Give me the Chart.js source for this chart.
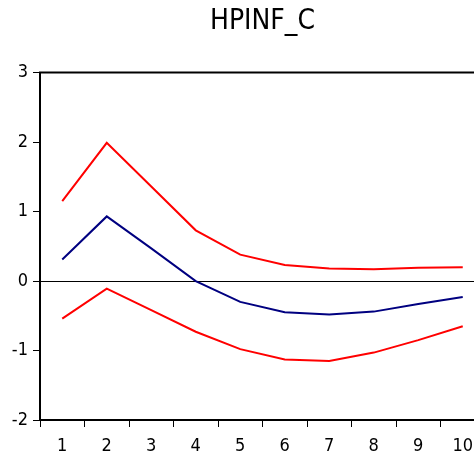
<!DOCTYPE html>
<html>
<head>
<meta charset="utf-8">
<script src="https://cdn.jsdelivr.net/npm/chart.js@4/dist/chart.umd.min.js"></script>
<style>
  html, body { margin: 0; padding: 0; overflow: hidden; background: #fff; }
  #wrap { width: 474px; height: 455px; overflow: hidden; }
</style>
</head>
<body>
<div id="wrap"><canvas id="irfChart" width="490" height="455"></canvas></div>
<script>
// periods after the shock
var periods = ["1", "2", "3", "4", "5", "6", "7", "8", "9", "10"];
// response of HPINF to C
var response = [0.31, 0.93, 0.47, 0.00, -0.30, -0.45, -0.48, -0.44, -0.33, -0.23];
// +/- 2 S.E. bands
var upperBand = [1.15, 1.99, 1.36, 0.73, 0.38, 0.23, 0.18, 0.17, 0.19, 0.20];
var lowerBand = [-0.54, -0.11, -0.42, -0.73, -0.98, -1.13, -1.15, -1.03, -0.85, -0.65];
var yTicks = [-2, -1, 0, 1, 2, 3];

var narrowFont = "'Liberation Sans Narrow', 'Arial Narrow', 'DejaVu Sans Condensed', sans-serif";

// top frame line like eviews
const frameLine = {
  id: "frameLine",
  afterDraw(chart) {
    const a = chart.chartArea;
    const ctx = chart.ctx;
    ctx.save();
    ctx.strokeStyle = "#000";
    ctx.lineWidth = 2;
    ctx.beginPath();
    ctx.moveTo(a.left - 1, a.top);
    ctx.lineTo(a.right, a.top);
    ctx.stroke();
    ctx.restore();
  }
};

const irfChart = new Chart(
  document.getElementById("irfChart"),
  {
    type: "line",
    data: {
      labels: periods,
      datasets: [
        {
          label: "response",
          data: response,
          borderColor: "#000080",
          borderWidth: 2,
          pointRadius: 0,
          tension: 0,
        },
        {
          label: "upper",
          data: upperBand,
          borderColor: "#ff0000",
          borderWidth: 2,
          pointRadius: 0,
          tension: 0,
        },
        {
          label: "lower",
          data: lowerBand,
          borderColor: "#ff0000",
          borderWidth: 2,
          pointRadius: 0,
          tension: 0,
        }
      ],
    },
    options: {
      responsive: false,
      animation: false,
      layout: {
        padding: { left: 0, right: 5, top: 0, bottom: 0 },
      },
      plugins: {
        legend: { display: false },
        tooltip: { enabled: false },
        title: {
          display: true,
          text: "HPINF_C",
          fullSize: false,
          color: "#000",
          font: { family: narrowFont, size: 28, weight: "normal" },
          padding: { top: 5, bottom: 34 },
        },
      },
      scales: {
        x: {
          type: "category",
          offset: true,
          afterFit: (scale) => {
            scale.height = 35;
          },
          grid: {
            offset: true,
            drawOnChartArea: false,
            tickLength: 7,
            color: "#000",
          },
          border: { display: true, color: "#000", width: 2 },
          ticks: {
            color: "#000",
            padding: 9,
            maxRotation: 0,
            autoSkip: false,
            font: { family: narrowFont, size: 18 },
          },
        },
        y: {
          min: -2,
          max: 3,
          afterBuildTicks: (scale) => {
            scale.ticks = yTicks.map((v) => ({ value: v }));
          },
          afterFit: (scale) => {
            scale.width = 40;
          },
          grid: {
            drawOnChartArea: true,
            tickLength: 7,
            color: (ctx) => (ctx.tick && ctx.tick.value === 0 ? "#000" : "rgba(0,0,0,0)"),
            tickColor: "#000",
            lineWidth: 1,
          },
          border: { display: true, color: "#000", width: 2 },
          ticks: {
            color: "#000",
            padding: 5,
            font: { family: narrowFont, size: 18 },
          },
        },
      },
    },
    plugins: [frameLine],
  }
);
</script>
</body>
</html>
